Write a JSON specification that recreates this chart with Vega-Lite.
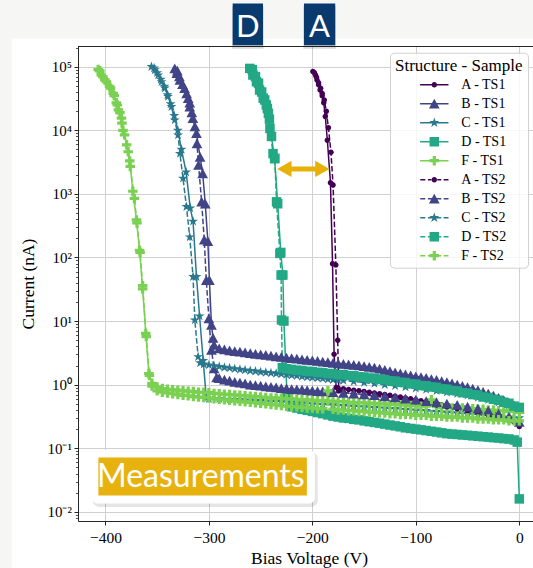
{
"$schema":"https://vega.github.io/schema/vega-lite/v6.json",
"width":455,"height":475,
"autosize":{"type":"none"},
"padding":{"left":78,"top":46,"right":0,"bottom":47},
"background":"#ffffff",
"config":{"font":"Liberation Serif","view":{"stroke":null},
"axis":{"domainColor":"#262626","tickColor":"#262626","gridColor":"#d0d0d0","gridWidth":1,"labelColor":"#000000","titleColor":"#000000","domainWidth":1,"tickWidth":1}},
"datasets":{"iv":[
{"v":-199.5,"1A":84000},{"v":-197,"1A":74000},{"v":-195.5,"1A":62000},{"v":-194,"1A":52000},{"v":-192.5,"1A":43000},{"v":-190.5,"1A":35000},{"v":-189,"1A":27000},{"v":-187.5,"1A":16500},{"v":-185.5,"1A":7000},{"v":-182.5,"1A":1500},{"v":-180.5,"1A":80},{"v":-179,"1A":3},{"v":-177,"1A":0.9},
{"v":-198,"2A":80000},{"v":-196,"2A":68000},{"v":-194,"2A":56000},{"v":-192,"2A":46000},{"v":-190.5,"2A":38000},{"v":-188.5,"2A":30000},{"v":-186.5,"2A":20000},{"v":-184.5,"2A":11000},{"v":-182,"2A":4500},{"v":-180,"2A":1380},{"v":-177.3,"2A":76},{"v":-175.5,"2A":5},{"v":-174.5,"2A":0.8},
{"v":-333,"1B":94000},{"v":-331,"1B":79000},{"v":-328,"1B":62000},{"v":-323.5,"1B":46000},{"v":-320,"1B":32000},{"v":-318.5,"1B":23500},{"v":-315.5,"1B":15500},{"v":-312,"1B":9000},{"v":-308.5,"1B":3800},{"v":-306,"1B":2100},{"v":-303.5,"1B":700},{"v":-301,"1B":180},{"v":-299.5,"1B":44},{"v":-297.5,"1B":8.7},{"v":-296,"1B":5.4},{"v":-295,"1B":4.2},
{"v":-330.5,"2B":86000},{"v":-328.5,"2B":70000},{"v":-325.5,"2B":53000},{"v":-321.5,"2B":38000},{"v":-318.5,"2B":27000},{"v":-316.5,"2B":19000},{"v":-313.5,"2B":11500},{"v":-311.5,"2B":6200},{"v":-310,"2B":2850},{"v":-307,"2B":750},{"v":-304.5,"2B":190},{"v":-302.5,"2B":44},{"v":-300,"2B":11},{"v":-297.5,"2B":3.5},{"v":-295,"2B":1.8},{"v":-292.5,"2B":1.3},
{"v":-353,"1C":95000},{"v":-350,"1C":80000},{"v":-346.5,"1C":63000},{"v":-343,"1C":49000},{"v":-340,"1C":36000},{"v":-337,"1C":26000},{"v":-333.5,"1C":17000},{"v":-330,"1C":10000},{"v":-326.5,"1C":5000},{"v":-322,"1C":2200},{"v":-318,"1C":600},{"v":-315.3,"1C":370},{"v":-312,"1C":50},{"v":-309,"1C":12},{"v":-305.5,"1C":2.4},{"v":-302.5,"1C":0.62},
{"v":-355.5,"2C":100000},{"v":-352.3,"2C":89000},{"v":-349,"2C":74000},{"v":-345.8,"2C":58000},{"v":-342.6,"2C":46000},{"v":-339.5,"2C":34000},{"v":-336.2,"2C":23500},{"v":-333,"2C":14500},{"v":-329.8,"2C":8400},{"v":-328,"2C":4300},{"v":-325,"2C":1760},{"v":-321.7,"2C":630},{"v":-318.5,"2C":210},{"v":-315.3,"2C":50},{"v":-313.6,"2C":10.4},{"v":-310.4,"2C":2.75},{"v":-308.5,"2C":2.2},
{"v":-258,"1D":90000},{"v":-255,"1D":70000},{"v":-252,"1D":55000},{"v":-249,"1D":40000},{"v":-246,"1D":30000},{"v":-243.5,"1D":22000},{"v":-241.5,"1D":15000},{"v":-239.5,"1D":8000},{"v":-236.5,"1D":3600},{"v":-233.5,"1D":700},{"v":-230.5,"1D":120},{"v":-228.5,"1D":53},{"v":-227.5,"1D":10},{"v":-224.5,"1D":0.68},
{"v":-260.5,"2D":94000},{"v":-257.5,"2D":74000},{"v":-254,"2D":58000},{"v":-251,"2D":43000},{"v":-247.5,"2D":32000},{"v":-244.5,"2D":25000},{"v":-242.5,"2D":18500},{"v":-241,"2D":10700},{"v":-238,"2D":4300},{"v":-236.3,"2D":3600},{"v":-234.6,"2D":750},{"v":-231.4,"2D":116},{"v":-230.2,"2D":53},{"v":-229.8,"2D":10.4},{"v":-229,"2D":1.85},
{"v":-407,"1F":90000},{"v":-404,"1F":74000},{"v":-400.5,"1F":62000},{"v":-396,"1F":49000},{"v":-392.5,"1F":38000},{"v":-389.5,"1F":27000},{"v":-387.5,"1F":21000},{"v":-384.5,"1F":15500},{"v":-383,"1F":10000},{"v":-379.5,"1F":5900},{"v":-376.5,"1F":3300},{"v":-373.5,"1F":1100},{"v":-370,"1F":390},{"v":-367,"1F":130},{"v":-364,"1F":32},{"v":-361,"1F":6.4},{"v":-358,"1F":1.5},
{"v":-405.5,"2F":86000},{"v":-402.5,"2F":70000},{"v":-399,"2F":58000},{"v":-395,"2F":46000},{"v":-391.5,"2F":35000},{"v":-388.5,"2F":25000},{"v":-386,"2F":19000},{"v":-384,"2F":13000},{"v":-381.5,"2F":8500},{"v":-378,"2F":4600},{"v":-376,"2F":2700},{"v":-372,"2F":850},{"v":-369.5,"2F":350},{"v":-366.5,"2F":120},{"v":-364,"2F":36},{"v":-360.5,"2F":5.7},{"v":-357.5,"2F":1.4},
{"v":-355,"1F":1.05,"2F":0.95},
{"v":-350,"1F":0.92,"2F":0.8},
{"v":-345,"1F":0.87,"2F":0.76},
{"v":-340,"1F":0.85,"2F":0.74},
{"v":-335,"1F":0.83,"2F":0.72},
{"v":-330,"1F":0.82,"2F":0.7},
{"v":-325,"1F":0.8,"2F":0.68},
{"v":-320,"1F":0.79,"2F":0.67},
{"v":-315,"1F":0.78,"2F":0.65},
{"v":-310,"1F":0.76,"2F":0.64},
{"v":-305,"1F":0.76,"2F":0.63,"2C":2.1},
{"v":-300,"1F":0.75,"2F":0.62,"2C":2.04,"1C":0.6},
{"v":-295,"1F":0.73,"2F":0.6,"2C":1.98},
{"v":-290,"1F":0.72,"2F":0.59,"2C":1.93,"1C":0.6,"1B":3.7,"2B":1.26},
{"v":-285,"1F":0.71,"2F":0.58,"2C":1.87,"1B":3.56,"2B":1.2},
{"v":-280,"1F":0.7,"2F":0.57,"2C":1.83,"1C":0.59,"1B":3.46,"2B":1.15},
{"v":-275,"1F":0.69,"2F":0.56,"2C":1.78,"1B":3.37,"2B":1.1},
{"v":-270,"1F":0.68,"2F":0.55,"2C":1.74,"1C":0.58,"1B":3.3,"2B":1.07},
{"v":-265,"1F":0.67,"2F":0.54,"2C":1.7,"1B":3.2,"2B":1.04},
{"v":-260,"1F":0.66,"2F":0.53,"2C":1.66,"1C":0.57,"1B":3.12,"2B":1.0},
{"v":-255,"1F":0.65,"2F":0.52,"2C":1.63,"1B":3.05,"2B":0.98},
{"v":-250,"1F":0.64,"2F":0.51,"2C":1.59,"1C":0.56,"1B":2.98,"2B":0.96},
{"v":-245,"1F":0.63,"2F":0.5,"2C":1.56,"1B":2.92,"2B":0.94},
{"v":-240,"1F":0.62,"2F":0.49,"2C":1.53,"1C":0.55,"1B":2.85,"2B":0.92},
{"v":-235,"1F":0.62,"2F":0.48,"2C":1.5,"1B":2.78,"2B":0.9},
{"v":-230,"1F":0.61,"2F":0.47,"2C":1.47,"1C":0.54,"1B":2.72,"2B":0.88},
{"v":-225,"1F":0.6,"2F":0.46,"2C":1.44,"1B":2.66,"2B":0.87,"2D":1.78},
{"v":-220,"1F":0.6,"2F":0.45,"2C":1.41,"1C":0.53,"1B":2.6,"2B":0.85,"2D":1.74,"1D":0.45},
{"v":-215,"1F":0.59,"2F":0.45,"2C":1.38,"1B":2.55,"2B":0.84,"2D":1.69,"1D":0.43},
{"v":-210,"1F":0.58,"2F":0.44,"2C":1.35,"1C":0.52,"1B":2.5,"2B":0.83,"2D":1.67,"1D":0.41},
{"v":-205,"1F":0.58,"2F":0.43,"2C":1.32,"1B":2.45,"2B":0.82,"2D":1.62,"1D":0.395},
{"v":-200,"1F":0.57,"2F":0.43,"2C":1.3,"1C":0.5,"1B":2.4,"2B":0.8,"2D":1.61,"1D":0.38},
{"v":-195,"1F":0.56,"2F":0.42,"2C":1.27,"1B":2.35,"2B":0.79,"2D":1.56,"1D":0.365},
{"v":-190,"1F":0.56,"2F":0.42,"2C":1.25,"1C":0.49,"1B":2.3,"2B":0.78,"2D":1.55,"1D":0.35},
{"v":-185,"1F":0.55,"2F":0.8,"2C":1.22,"1B":2.25,"2D":1.5,"1D":0.335},
{"v":-180,"1F":0.55,"2F":0.41,"2C":1.2,"1C":0.48,"1B":2.2,"2B":0.76,"2D":1.49,"1D":0.32},
{"v":-175,"1F":0.54,"2F":0.4,"2C":1.18,"1B":2.16,"2D":1.44,"1D":0.31,"1A":0.88},
{"v":-170,"1F":0.54,"2F":0.4,"2C":1.16,"1C":0.47,"1B":2.12,"2B":0.74,"2D":1.44,"1D":0.3,"1A":0.86,"2A":0.76},
{"v":-165,"1F":0.53,"2F":0.39,"1B":2.08,"2D":1.39,"1D":0.295,"1A":0.84},
{"v":-160,"1F":0.53,"2F":0.39,"2C":1.12,"1C":0.46,"1B":2.04,"2B":0.72,"2D":1.38,"1D":0.285,"1A":0.82,"2A":0.72},
{"v":-155,"1F":0.52,"2F":0.38,"1B":2.0,"2D":1.33,"1D":0.28,"1A":0.8},
{"v":-150,"1F":0.52,"2F":0.38,"2C":1.08,"1C":0.45,"1B":1.95,"2B":0.7,"2D":1.32,"1D":0.27,"1A":0.78,"2A":0.69},
{"v":-145,"1F":0.51,"2F":0.37,"1B":1.9,"2D":1.27,"1D":0.262,"1A":0.76},
{"v":-140,"1F":0.51,"2F":0.37,"2C":1.04,"1C":0.44,"1B":1.85,"2B":0.68,"2D":1.26,"1D":0.255,"1A":0.74,"2A":0.66},
{"v":-135,"1F":0.5,"2F":0.36,"1B":1.78,"2D":1.21,"1D":0.248,"1A":0.72},
{"v":-130,"1F":0.5,"2F":0.36,"2C":1.0,"1C":0.43,"1B":1.7,"2B":0.65,"2D":1.2,"1D":0.24,"1A":0.7,"2A":0.63},
{"v":-125,"1F":0.49,"2F":0.35,"1B":1.62,"2D":1.15,"1D":0.232,"1A":0.68},
{"v":-120,"1F":0.49,"2F":0.35,"2C":0.96,"1C":0.42,"1B":1.55,"2B":0.63,"2D":1.14,"1D":0.225,"1A":0.66,"2A":0.6},
{"v":-115,"1F":0.48,"2F":0.34,"1B":1.5,"2D":1.09,"1D":0.218,"1A":0.64},
{"v":-110,"1F":0.48,"2F":0.34,"2C":0.92,"1C":0.41,"1B":1.45,"2B":0.6,"2D":1.08,"1D":0.21,"1A":0.62,"2A":0.57},
{"v":-105,"1F":0.47,"2F":0.34,"1B":1.4,"2D":1.03,"1D":0.205,"1A":0.6},
{"v":-100,"1F":0.47,"2F":0.33,"2C":0.88,"1C":0.4,"1B":1.35,"2B":0.58,"2D":1.02,"1D":0.2,"1A":0.58,"2A":0.54},
{"v":-95,"1F":0.46,"2F":0.33,"1B":1.31,"2D":0.97,"1D":0.195,"1A":0.56},
{"v":-90,"1F":0.46,"2F":0.33,"2C":0.84,"1C":0.39,"1B":1.27,"2B":0.55,"2D":0.96,"1D":0.19,"1A":0.54,"2A":0.51},
{"v":-85,"1F":0.58,"2F":0.32,"1B":1.22,"2D":0.92,"1D":0.185,"1A":0.52},
{"v":-80,"1F":0.45,"2F":0.32,"2C":0.8,"1C":0.38,"1B":1.18,"2B":0.53,"2D":0.91,"1D":0.18,"1A":0.5,"2A":0.48},
{"v":-75,"1F":0.44,"2F":0.32,"1B":1.13,"2D":0.86,"1D":0.175,"1A":0.48},
{"v":-70,"1F":0.44,"2F":0.31,"2C":0.76,"1C":0.37,"1B":1.09,"2B":0.5,"2D":0.85,"1D":0.17,"1A":0.47,"2A":0.45},
{"v":-65,"1F":0.43,"2F":0.31,"1B":1.04,"2D":0.81,"1D":0.167,"1A":0.45},
{"v":-60,"1F":0.43,"2F":0.31,"2C":0.72,"1C":0.36,"1B":1.0,"2B":0.48,"2D":0.8,"1D":0.165,"1A":0.43,"2A":0.42},
{"v":-55,"1F":0.43,"2F":0.3,"1B":0.95,"2D":0.75,"1D":0.162,"1A":0.42},
{"v":-50,"1F":0.42,"2F":0.3,"2C":0.68,"1C":0.35,"1B":0.91,"2B":0.45,"2D":0.74,"1D":0.16,"1A":0.4,"2A":0.39},
{"v":-45,"1F":0.42,"2F":0.3,"1B":0.86,"2D":0.7,"1D":0.157,"1A":0.38},
{"v":-40,"1F":0.41,"2F":0.29,"2C":0.63,"1C":0.34,"1B":0.82,"2B":0.42,"2D":0.69,"1D":0.155,"1A":0.37,"2A":0.36},
{"v":-35,"1F":0.41,"2F":0.29,"1B":0.77,"2D":0.64,"1D":0.152,"1A":0.35},
{"v":-30,"1F":0.4,"2F":0.29,"2C":0.58,"1C":0.33,"1B":0.72,"2B":0.39,"2D":0.63,"1D":0.15,"1A":0.34,"2A":0.33},
{"v":-25,"1F":0.4,"2F":0.28,"1B":0.67,"2D":0.59,"1D":0.147,"1A":0.32},
{"v":-20,"1F":0.39,"2F":0.28,"2C":0.53,"1C":0.32,"1B":0.62,"2B":0.35,"2D":0.57,"1D":0.145,"1A":0.31,"2A":0.3},
{"v":-15,"1F":0.39,"2F":0.28,"1B":0.57,"2D":0.53,"1D":0.142,"1A":0.29},
{"v":-10,"1F":0.38,"2F":0.27,"2C":0.48,"1C":0.31,"1B":0.52,"2B":0.31,"2D":0.51,"1D":0.14,"1A":0.28,"2A":0.27},
{"v":-5,"1F":0.38,"2F":0.27,"1B":0.47,"2D":0.46,"1D":0.135,"1A":0.26},
{"v":-2,"1D":0.125},
{"v":0,"1F":0.37,"2F":0.27,"2C":0.43,"1C":0.3,"1B":0.42,"2B":0.26,"2D":0.44,"1D":0.016,"1A":0.25,"2A":0.22}
]},
"layer":[
{"data":{"values":[{}]},"mark":{"type":"rect","color":"#f6f6f4"},
 "encoding":{"x":{"datum":-520,"type":"quantitative","axis":null},"x2":{"datum":40},"y":{"datum":277000,"type":"quantitative","axis":null},"y2":{"datum":10000000}}},
{"data":{"values":[{}]},"mark":{"type":"rect","color":"#f6f6f4"},
 "encoding":{"x":{"datum":-520,"type":"quantitative","axis":null},"x2":{"datum":-490.6},"y":{"datum":0.0001,"type":"quantitative","axis":null},"y2":{"datum":10000000}}},
{"data":{"name":"iv"},
 "transform":[{"fold":["1A","1B","1C","1D","1F","2A","2B","2C","2D","2F"],"as":["s","i"]},{"filter":"isValid(datum.i)"}],
 "mark":{"type":"line","strokeWidth":1.5},
 "encoding":{
  "x":{"field":"v","type":"quantitative","scale":{"domain":[-426.5,13.25],"nice":false,"zero":false},
   "axis":{"orient":"bottom","title":"Bias Voltage (V)","values":[-400,-300,-200,-100,0],"format":"d","grid":true,"tickSize":4,"labelFont":"Liberation Serif","labelFontSize":15.5,"labelPadding":5.5,"labelFlush":false,"labelOverlap":false,"titleFont":"Liberation Serif","titleFontSize":17.5,"titleFontWeight":"normal","titleX":231,"titleY":42,"titleBaseline":"alphabetic","titleAlign":"center"}},
  "y":{"field":"i","type":"quantitative","scale":{"type":"log","domain":[0.00719,211600],"nice":false},
   "axis":{"orient":"left","title":"Current (nA)","values":[0.01,0.1,1,10,100,1000,10000,100000],"labelExpr":"['10⁻²','10⁻¹','10⁰','10¹','10²','10³','10⁴','10⁵'][round(log(datum.value)/LN10)+2]","grid":true,"tickSize":4,"labelFont":"Liberation Serif","labelFontSize":15,"labelPadding":2.6,"labelOverlap":false,"titleFont":"Liberation Serif","titleFontSize":17.5,"titleFontWeight":"normal","titleX":-44.5,"titleY":237.5,"titleBaseline":"alphabetic","titleAlign":"center","titleAngle":-90}},
  "color":{"field":"s","type":"nominal","scale":{"domain":["1A","1B","1C","1D","1F","2A","2B","2C","2D","2F"],"range":["#440154","#414487","#2a788e","#22a884","#7ad151","#440154","#414487","#2a788e","#22a884","#7ad151"]},"legend":null},
  "strokeDash":{"field":"s","type":"nominal","scale":{"domain":["1A","1B","1C","1D","1F","2A","2B","2C","2D","2F"],"range":[[1,0],[1,0],[1,0],[1,0],[1,0],[5.55,2.4],[5.55,2.4],[5.55,2.4],[5.55,2.4],[5.55,2.4]]},"legend":null}
 }},
{"data":{"name":"iv"},
 "transform":[{"fold":["1A","1B","1C","1D","1F","2A","2B","2C","2D","2F"],"as":["s","i"]},{"filter":"isValid(datum.i)"}],
 "mark":{"type":"point","filled":true,"opacity":1,"size":100,"strokeWidth":0},
 "encoding":{
  "x":{"field":"v","type":"quantitative","axis":null},
  "y":{"field":"i","type":"quantitative","axis":null},
  "color":{"field":"s","type":"nominal","legend":null},
  "shape":{"field":"s","type":"nominal","scale":{"domain":["1A","1B","1C","1D","1F","2A","2B","2C","2D","2F"],"range":[
   "M0.55,0A0.55,0.55,0,1,1,-0.55,0A0.55,0.55,0,1,1,0.55,0Z",
   "M0,-1L1.07,0.95L-1.07,0.95Z",
   "M0,-1.05L0.236,-0.324L0.999,-0.324L0.382,0.124L0.617,0.85L0,0.401L-0.617,0.85L-0.382,0.124L-0.999,-0.324L-0.236,-0.324Z",
   "M-0.95,-0.95H0.95V0.95H-0.95Z",
   "M-0.32,-0.95H0.32V-0.32H0.95V0.32H0.32V0.95H-0.32V0.32H-0.95V-0.32H-0.32Z",
   "M0.55,0A0.55,0.55,0,1,1,-0.55,0A0.55,0.55,0,1,1,0.55,0Z",
   "M0,-1L1.07,0.95L-1.07,0.95Z",
   "M0,-1.05L0.236,-0.324L0.999,-0.324L0.382,0.124L0.617,0.85L0,0.401L-0.617,0.85L-0.382,0.124L-0.999,-0.324L-0.236,-0.324Z",
   "M-0.95,-0.95H0.95V0.95H-0.95Z",
   "M-0.32,-0.95H0.32V-0.32H0.95V0.32H0.32V0.95H-0.32V0.32H-0.95V-0.32H-0.32Z"]},"legend":null},
  "order":{"field":"s","type":"ordinal"}
 }},
{"data":{"values":[{}]},"mark":{"type":"rule","color":"#262626","strokeWidth":1},
 "encoding":{"x":{"datum":-426.5,"type":"quantitative","axis":null},"x2":{"datum":30},"y":{"datum":207800,"type":"quantitative","axis":null}}},
{"data":{"values":[{}]},"mark":{"type":"rule","color":"#e8b10a","strokeWidth":5},
 "encoding":{"x":{"datum":-227,"type":"quantitative","axis":null},"x2":{"datum":-190.5},"y":{"datum":2466,"type":"quantitative","axis":null}}},
{"data":{"values":[{}]},"mark":{"type":"point","filled":true,"opacity":1,"size":207,"color":"#e8b10a","strokeWidth":0,"shape":"M-1,0L1,-1.13L1,1.13Z"},
 "encoding":{"x":{"datum":-227.1,"type":"quantitative","axis":null},"y":{"datum":2466,"type":"quantitative","axis":null}}},
{"data":{"values":[{}]},"mark":{"type":"point","filled":true,"opacity":1,"size":207,"color":"#e8b10a","strokeWidth":0,"shape":"M1,0L-1,-1.13L-1,1.13Z"},
 "encoding":{"x":{"datum":-190.3,"type":"quantitative","axis":null},"y":{"datum":2466,"type":"quantitative","axis":null}}},
{"data":{"values":[{}]},"mark":{"type":"rect","color":"#000000","opacity":0.1,"cornerRadius":7},
 "encoding":{"x":{"datum":-412.3,"type":"quantitative","axis":null},"x2":{"datum":-194.7},"y":{"datum":0.0875,"type":"quantitative","axis":null},"y2":{"datum":0.01194}}},
{"data":{"values":[{}]},"mark":{"type":"rect","color":"#ffffff","cornerRadius":6},
 "encoding":{"x":{"datum":-413.2,"type":"quantitative","axis":null},"x2":{"datum":-197.6},"y":{"datum":0.094,"type":"quantitative","axis":null},"y2":{"datum":0.01361}}},
{"data":{"values":[{}]},"mark":{"type":"rect","color":"#e8b20e"},
 "encoding":{"x":{"datum":-406.8,"type":"quantitative","axis":null},"x2":{"datum":-205.3},"y":{"datum":0.0716,"type":"quantitative","axis":null},"y2":{"datum":0.01803}}},
{"data":{"values":[{}]},"mark":{"type":"text","font":"Lato","fontSize":32,"color":"#ffffff","align":"center","baseline":"alphabetic"},
 "encoding":{"x":{"datum":-307.8,"type":"quantitative","axis":null},"y":{"datum":0.02455,"type":"quantitative","axis":null},"text":{"value":"Measurements"}}},
{"data":{"values":[{}]},"mark":{"type":"rect","color":"#000000","opacity":0.15},
 "encoding":{"x":{"datum":-277.6,"type":"quantitative","axis":null},"x2":{"datum":-247.1},"y":{"datum":890000,"type":"quantitative","axis":null},"y2":{"datum":192000}}},
{"data":{"values":[{}]},"mark":{"type":"rect","color":"#000000","opacity":0.15},
 "encoding":{"x":{"datum":-208.7,"type":"quantitative","axis":null},"x2":{"datum":-177.3},"y":{"datum":890000,"type":"quantitative","axis":null},"y2":{"datum":192000}}},
{"data":{"values":[{}]},"mark":{"type":"rect","color":"#093a6e"},
 "encoding":{"x":{"datum":-277.0,"type":"quantitative","axis":null},"x2":{"datum":-247.7},"y":{"datum":989000,"type":"quantitative","axis":null},"y2":{"datum":217000}}},
{"data":{"values":[{}]},"mark":{"type":"rect","color":"#093a6e"},
 "encoding":{"x":{"datum":-208.1,"type":"quantitative","axis":null},"x2":{"datum":-177.9},"y":{"datum":989000,"type":"quantitative","axis":null},"y2":{"datum":217000}}},
{"data":{"values":[{}]},"mark":{"type":"text","font":"Lato","fontSize":31,"color":"#ffffff","align":"center","baseline":"alphabetic"},
 "encoding":{"x":{"datum":-262.4,"type":"quantitative","axis":null},"y":{"datum":288000,"type":"quantitative","axis":null},"text":{"value":"D"}}},
{"data":{"values":[{}]},"mark":{"type":"text","font":"Lato","fontSize":31,"color":"#ffffff","align":"center","baseline":"alphabetic"},
 "encoding":{"x":{"datum":-193.0,"type":"quantitative","axis":null},"y":{"datum":288000,"type":"quantitative","axis":null},"text":{"value":"A"}}},
{"data":{"values":[]},"mark":{"type":"point","filled":true,"opacity":1},
 "encoding":{
  "fill":{"field":"s","type":"nominal","scale":{"domain":["1A","1B","1C","1D","1F","2A","2B","2C","2D","2F"],"range":["#440154","#414487","#2a788e","#22a884","#7ad151","#440154","#414487","#2a788e","#22a884","#7ad151"]},
   "legend":{"title":"Structure - Sample","orient":"none","legendX":312,"legendY":6.7,"direction":"vertical","titleFont":"Liberation Serif","titleFontSize":17,"titleFontWeight":"normal","titleColor":"#000000","titlePadding":3,"labelFont":"Liberation Serif","labelFontSize":14,"labelColor":"#000000","labelExpr":"slice(datum.label,1) + ' - TS' + slice(datum.label,0,1)","labelOffset":20,"symbolSize":100,"symbolOffset":32.3,"symbolStrokeWidth":0,"symbolOpacity":1,"rowPadding":5,"padding":5,"fillColor":"rgba(255,255,255,0.8)","strokeColor":"#d0d0d0","cornerRadius":4}},
  "shape":{"field":"s","type":"nominal","scale":{"domain":["1A","1B","1C","1D","1F","2A","2B","2C","2D","2F"],"range":[
   "M-2.84,-0.15H-0.4V0.15H-2.84ZM0.4,-0.15H2.84V0.15H0.4ZM0.55,0A0.55,0.55,0,1,1,-0.55,0A0.55,0.55,0,1,1,0.55,0Z",
   "M-2.84,-0.15H-0.4V0.15H-2.84ZM0.4,-0.15H2.84V0.15H0.4ZM0,-1L1.07,0.95L-1.07,0.95Z",
   "M-2.84,-0.15H-0.4V0.15H-2.84ZM0.4,-0.15H2.84V0.15H0.4ZM0,-1.05L0.236,-0.324L0.999,-0.324L0.382,0.124L0.617,0.85L0,0.401L-0.617,0.85L-0.382,0.124L-0.999,-0.324L-0.236,-0.324Z",
   "M-2.84,-0.15H-0.4V0.15H-2.84ZM0.4,-0.15H2.84V0.15H0.4ZM-0.95,-0.95H0.95V0.95H-0.95Z",
   "M-2.84,-0.15H-0.4V0.15H-2.84ZM0.4,-0.15H2.84V0.15H0.4ZM-0.32,-0.95H0.32V-0.32H0.95V0.32H0.32V0.95H-0.32V0.32H-0.95V-0.32H-0.32Z",
   "M-2.8,-0.15H-1.8V0.15H-2.8ZM-1.27,-0.15H-0.6V0.15H-1.27ZM0.6,-0.15H1.4V0.15H0.6ZM1.87,-0.15H2.84V0.15H1.87ZM0.55,0A0.55,0.55,0,1,1,-0.55,0A0.55,0.55,0,1,1,0.55,0Z",
   "M-2.8,-0.15H-1.8V0.15H-2.8ZM-1.27,-0.15H-0.45V0.15H-1.27ZM0.45,-0.15H1.4V0.15H0.45ZM1.87,-0.15H2.84V0.15H1.87ZM0,-1L1.07,0.95L-1.07,0.95Z",
   "M-2.8,-0.15H-1.8V0.15H-2.8ZM-1.27,-0.15H-0.45V0.15H-1.27ZM0.45,-0.15H1.4V0.15H0.45ZM1.87,-0.15H2.84V0.15H1.87ZM0,-1.05L0.236,-0.324L0.999,-0.324L0.382,0.124L0.617,0.85L0,0.401L-0.617,0.85L-0.382,0.124L-0.999,-0.324L-0.236,-0.324Z",
   "M-2.8,-0.15H-1.8V0.15H-2.8ZM-1.27,-0.15H-0.45V0.15H-1.27ZM0.45,-0.15H1.4V0.15H0.45ZM1.87,-0.15H2.84V0.15H1.87ZM-0.95,-0.95H0.95V0.95H-0.95Z",
   "M-2.8,-0.15H-1.8V0.15H-2.8ZM-1.27,-0.15H-0.45V0.15H-1.27ZM0.45,-0.15H1.4V0.15H0.45ZM1.87,-0.15H2.84V0.15H1.87ZM-0.32,-0.95H0.32V-0.32H0.95V0.32H0.32V0.95H-0.32V0.32H-0.95V-0.32H-0.32Z"]},
   "legend":{"title":"Structure - Sample","orient":"none","legendX":312,"legendY":6.7,"direction":"vertical","titleFont":"Liberation Serif","titleFontSize":17,"titleFontWeight":"normal","titleColor":"#000000","titlePadding":3,"labelFont":"Liberation Serif","labelFontSize":14,"labelColor":"#000000","labelExpr":"slice(datum.label,1) + ' - TS' + slice(datum.label,0,1)","labelOffset":20,"symbolSize":100,"symbolOffset":32.3,"symbolStrokeWidth":0,"symbolOpacity":1,"rowPadding":5,"padding":5,"fillColor":"rgba(255,255,255,0.8)","strokeColor":"#d0d0d0","cornerRadius":4}}
 }},
{"data":{"values":[]},"mark":{"type":"point"},
 "encoding":{"y":{"field":"i","type":"quantitative","axis":{"orient":"left","values":[0.008,0.009,0.02,0.03,0.04,0.05,0.06,0.07,0.08,0.09,0.2,0.3,0.4,0.5,0.6,0.7,0.8,0.9,2,3,4,5,6,7,8,9,20,30,40,50,60,70,80,90,200,300,400,500,600,700,800,900,2000,3000,4000,5000,6000,7000,8000,9000,20000,30000,40000,50000,60000,70000,80000,90000,200000],"labels":false,"grid":false,"domain":false,"ticks":true,"tickSize":2.5,"tickWidth":0.8,"title":null}}}}
],
"resolve":{"scale":{"shape":"independent","fill":"independent"},"axis":{"x":"independent","y":"independent"}}
}
